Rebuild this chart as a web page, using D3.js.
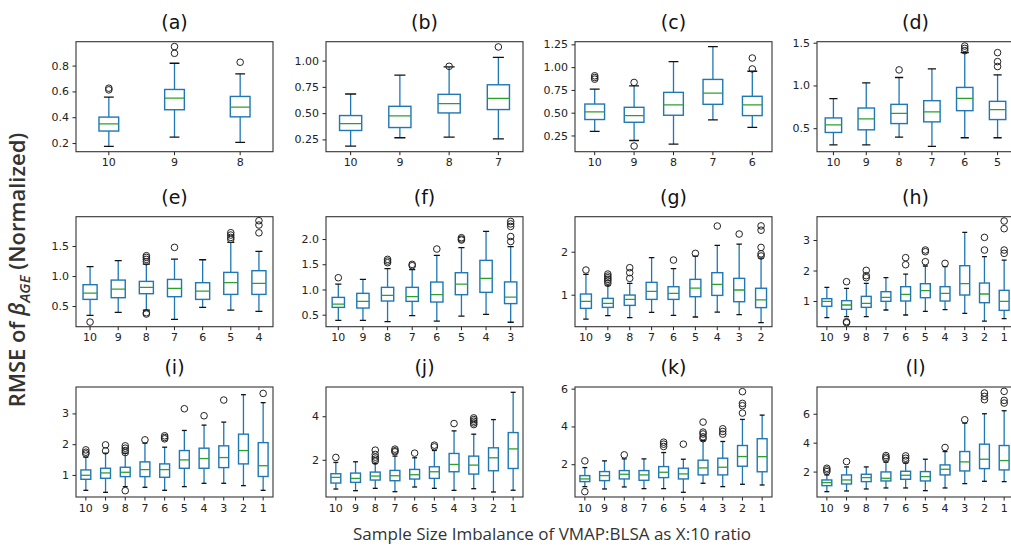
<!DOCTYPE html>
<html>
<head>
<meta charset="utf-8">
<script src="https://cdn.jsdelivr.net/npm/d3@7"></script>
<style>
  body { margin: 0; background: #fff; }
  svg { display: block; }
  .tick text { font-family: "DejaVu Sans", sans-serif; font-size: 11px; fill: #222; }
  .tick line { stroke: #222; }
</style>
</head>
<body>
<div id="chart"></div>
<script>
// categories (X:10 ratio), each panel uses the first n
const ratios = ["10", "9", "8", "7", "6", "5", "4", "3", "2", "1"];
const panelNames = ["(a)", "(b)", "(c)", "(d)", "(e)", "(f)", "(g)", "(h)", "(i)", "(j)", "(k)", "(l)"];

// box stats per category: [lowWhisker, q1, median, q3, highWhisker]
const boxA = [[0.174,0.293,0.349,0.401,0.555],[0.246,0.458,0.548,0.615,0.818],[0.205,0.403,0.478,0.561,0.736]];
const outA = [[0.612,0.625],[0.895,0.947],[0.826]];

const boxB = [[0.187,0.335,0.401,0.477,0.682],[0.266,0.363,0.474,0.565,0.861],[0.272,0.502,0.590,0.679,0.940],[0.256,0.534,0.641,0.770,1.030]];
const outB = [[],[],[0.946],[1.13]];

const boxC = [[0.294,0.425,0.508,0.595,0.759],[0.195,0.395,0.468,0.559,0.795],[0.155,0.472,0.585,0.723,1.061],[0.421,0.592,0.715,0.865,1.225],[0.34,0.468,0.585,0.68,0.955]];
const outC = [[0.868,0.886,0.905],[0.134,0.832],[],[],[0.98,1.10]];

const boxD = [[0.306,0.45,0.539,0.62,0.845],[0.306,0.481,0.609,0.736,1.031],[0.395,0.554,0.674,0.779,1.093],[0.287,0.574,0.69,0.822,1.194],[0.388,0.705,0.849,0.977,1.384],[0.388,0.601,0.717,0.814,1.124]];
const outD = [[],[],[1.182],[],[1.407,1.434,1.461],[1.221,1.279,1.384]];

const boxE = [[0.344,0.611,0.717,0.856,1.156],[0.394,0.639,0.783,0.933,1.256],[0.433,0.706,0.811,0.911,1.2],[0.278,0.656,0.794,0.944,1.283],[0.478,0.611,0.75,0.889,1.272],[0.433,0.694,0.889,1.061,1.561],[0.411,0.694,0.878,1.089,1.411]];
const outE = [[0.233],[],[0.367,0.389,1.239,1.278,1.311,1.339],[1.478],[],[1.611,1.644,1.683,1.722],[1.72,1.85,1.922]];

const boxF = [[0.387,0.645,0.711,0.843,1.108],[0.387,0.632,0.764,0.923,1.2],[0.361,0.771,0.883,1.042,1.412],[0.48,0.764,0.857,1.042,1.392],[0.374,0.751,0.896,1.147,1.676],[0.473,0.896,1.108,1.332,1.828],[0.506,0.943,1.22,1.577,2.152],[0.35,0.72,0.85,1.15,1.85]];
const outF = [[1.233],[],[1.531,1.564,1.597],[1.471,1.498],[1.802],[1.98,2.0,2.026],[],[1.95,2.05,2.25,2.3,2.35]];

const boxG = [[0.434,0.682,0.845,1.016,1.473],[0.512,0.705,0.798,0.915,1.225],[0.465,0.752,0.891,0.992,1.264],[0.589,0.891,1.078,1.287,1.86],[0.519,0.891,1.031,1.186,1.605],[0.481,0.953,1.155,1.357,1.899],[0.597,0.984,1.24,1.512,2.147],[0.535,0.837,1.109,1.38,2.178],[0.35,0.7,0.88,1.15,1.85]];
const outG = [[1.574],[1.264,1.318,1.357,1.395,1.434,1.48],[1.38,1.512,1.628],[],[1.806],[1.961],[2.597],[2.411],[1.9,1.95,2.1,2.5,2.6]];

const boxH = [[0.454,0.825,0.989,1.077,1.448],[0.486,0.727,0.869,1.011,1.415],[0.486,0.792,0.923,1.153,1.579],[0.705,0.989,1.12,1.306,1.765],[0.541,1.0,1.219,1.47,1.885],[0.661,1.109,1.339,1.568,2.148],[0.716,1.0,1.251,1.47,2.126],[0.596,1.197,1.568,2.158,3.251],[0.344,0.945,1.23,1.59,2.454],[0.421,0.694,0.989,1.35,2.344]];
const outH = [[],[0.29,0.322,1.634],[1.765,1.831,2.005],[],[2.191,2.421],[2.29,2.617,2.672],[2.235],[],[2.672,3.087],[2.563,2.672,3.372,3.623]];

const boxI = [[0.5,0.859,0.989,1.163,1.576],[0.435,0.891,1.065,1.217,1.707],[0.62,0.946,1.087,1.25,1.707],[0.598,0.946,1.174,1.424,2.033],[0.5,0.924,1.174,1.359,1.902],[0.62,1.217,1.489,1.793,2.446],[0.728,1.217,1.533,1.87,2.62],[0.728,1.239,1.565,1.946,2.717],[0.652,1.359,1.793,2.326,3.609],[0.5,0.95,1.3,2.05,3.35]];
const outI = [[1.685,1.739,1.815],[1.783,1.978],[0.489,1.728,1.793,1.87,1.946],[2.141],[2.174,2.217,2.272],[3.152],[2.924],[3.435],[],[3.65]];

const boxJ = [[0.656,0.931,1.191,1.359,1.878],[0.58,0.962,1.145,1.389,1.908],[0.687,1.069,1.252,1.435,1.832],[0.534,1.038,1.267,1.511,2.168],[0.748,1.115,1.313,1.557,2.092],[0.687,1.145,1.45,1.679,2.427],[0.595,1.45,1.786,2.29,3.328],[0.672,1.344,1.756,2.168,3.176],[0.519,1.496,2.092,2.55,3.847],[0.6,1.6,2.5,3.25,5.1]];
const outJ = [[2.107],[],[1.939,2.031,2.122,2.244,2.443],[2.366,2.412,2.489],[2.305],[2.595,2.672],[3.664],[3.618,3.695,3.771,3.847,3.924],[],[]];

const boxK = [[0.814,1.08,1.221,1.398,1.823],[0.69,1.133,1.398,1.611,2.177],[0.796,1.221,1.469,1.664,2.283],[0.708,1.15,1.434,1.664,2.283],[0.708,1.292,1.575,1.876,2.619],[0.513,1.221,1.487,1.788,2.265],[0.991,1.434,1.805,2.212,3.25],[0.814,1.434,1.841,2.319,3.204],[0.938,1.894,2.407,2.991,4.372],[0.9,1.6,2.4,3.35,4.6]];
const outK = [[0.549,2.177],[],[2.496],[],[2.938,3.062,3.168],[3.062],[3.35,3.45,3.6,3.7,4.23],[3.593,3.735,3.876],[4.708,5.097,5.221,5.841],[]];

const boxL = [[0.613,1.029,1.237,1.422,1.769],[0.659,1.145,1.422,1.769,2.324],[0.798,1.306,1.584,1.815,2.324],[0.867,1.353,1.538,1.977,2.647],[0.867,1.468,1.746,2.023,2.601],[0.682,1.353,1.653,2.0,2.855],[0.867,1.769,2.162,2.462,3.387],[1.168,2.046,2.671,3.387,5.353],[1.329,2.208,2.855,3.896,6.0],[1.306,2.116,2.763,3.803,6.208]];
const outL = [[2.0,2.116,2.231],[2.694],[],[2.879,2.994,3.11],[2.763,2.925,3.087],[],[3.665],[5.584],[6.971,7.202,7.434],[6.74,6.925,7.549]];

// y axis ticks and limits per panel
const yTicks = [[0.2,0.4,0.6,0.8],[0.25,0.5,0.75,1.0],[0.25,0.5,0.75,1.0,1.25],[0.5,1.0,1.5],
                [0.5,1.0,1.5],[0.5,1.0,1.5,2.0],[1,2],[1,2,3],
                [1,2,3],[2,4],[2,4,6],[2,4,6]];
const yFormats = [".1f",".2f",".2f",".1f",".1f",".1f","d","d","d","d","d","d"];
const yLimits = [[0.133,0.985],[0.133,1.18],[0.072,1.279],[0.225,1.512],
                 [0.156,1.989],[0.262,2.443],[0.256,2.814],[0.158,3.765],
                 [0.283,3.859],[0.29,5.344],[0.265,6.088],[0.243,7.85]];

const boxes = [boxA, boxB, boxC, boxD, boxE, boxF, boxG, boxH, boxI, boxJ, boxK, boxL];
const fliers = [outA, outB, outC, outD, outE, outF, outG, outH, outI, outJ, outK, outL];

const W = 1011, H = 550;
const colLeft = [76, 326, 575, 817];
const rowTop = [41.7, 216.7, 387];
const pw = 197, ph = 110;

const svg = d3.select("#chart").append("svg")
    .attr("width", W)
    .attr("height", H);

boxes.forEach((data, i) => {
    const col = i % 4, row = Math.floor(i / 4);
    const cats = ratios.slice(0, data.length);
    const g = svg.append("g")
        .attr("transform", `translate(${colLeft[col]},${rowTop[row]})`);

    const x = d3.scaleBand().domain(cats).range([0, pw]);
    const y = d3.scaleLinear().domain(yLimits[i]).range([ph, 0]);
    const n = cats.length;
    const bw = Math.max(0.15, Math.min(0.5, 0.15 * (n - 1))) * x.bandwidth();
    const cx = c => x(c) + x.bandwidth() / 2;

    const clipId = "clip" + i;
    g.append("clipPath").attr("id", clipId)
        .append("rect").attr("width", pw).attr("height", ph);

    const plot = g.append("g").attr("clip-path", `url(#${clipId})`);

    const item = plot.selectAll("g.box")
        .data(data.map((d, j) => ({ cat: cats[j], s: d, out: fliers[i][j] })))
        .enter().append("g")
        .attr("class", "box");

    // whiskers
    item.append("line")
        .attr("x1", d => cx(d.cat)).attr("x2", d => cx(d.cat))
        .attr("y1", d => y(d.s[0])).attr("y2", d => y(d.s[1]))
        .attr("stroke", "#1f77b4").attr("stroke-width", 1.3);
    item.append("line")
        .attr("x1", d => cx(d.cat)).attr("x2", d => cx(d.cat))
        .attr("y1", d => y(d.s[3])).attr("y2", d => y(d.s[4]))
        .attr("stroke", "#1f77b4").attr("stroke-width", 1.3);

    // caps
    [0, 4].forEach(k => {
        item.append("line")
            .attr("x1", d => cx(d.cat) - bw / 4).attr("x2", d => cx(d.cat) + bw / 4)
            .attr("y1", d => y(d.s[k])).attr("y2", d => y(d.s[k]))
            .attr("stroke", "#111").attr("stroke-width", 1.3);
    });

    // box
    item.append("rect")
        .attr("x", d => cx(d.cat) - bw / 2)
        .attr("width", bw)
        .attr("y", d => y(d.s[3]))
        .attr("height", d => y(d.s[1]) - y(d.s[3]))
        .attr("fill", "none")
        .attr("stroke", "#1f77b4").attr("stroke-width", 1.4);

    // median
    item.append("line")
        .attr("x1", d => cx(d.cat) - bw / 2).attr("x2", d => cx(d.cat) + bw / 2)
        .attr("y1", d => y(d.s[2])).attr("y2", d => y(d.s[2]))
        .attr("stroke", "#2ca02c").attr("stroke-width", 1.3);

    // fliers
    item.selectAll("circle")
        .data(d => d.out.map(v => ({ cat: d.cat, v })))
        .enter().append("circle")
        .attr("cx", d => cx(d.cat))
        .attr("cy", d => y(d.v))
        .attr("r", 3.3)
        .attr("fill", "none")
        .attr("stroke", "#222").attr("stroke-width", 1);

    // axes
    const yAxis = g.append("g")
        .call(d3.axisLeft(y).tickValues(yTicks[i]).tickFormat(d3.format(yFormats[i]))
            .tickSize(3.5).tickPadding(3.5));
    yAxis.select(".domain").remove();

    const xAxis = g.append("g")
        .attr("transform", `translate(0,${ph})`)
        .call(d3.axisBottom(x).tickSize(3.5).tickPadding(3.5));
    xAxis.select(".domain").remove();

    // frame
    g.append("rect")
        .attr("width", pw).attr("height", ph)
        .attr("fill", "none")
        .attr("stroke", "#333").attr("stroke-width", 1.1);

    // title
    g.append("text")
        .attr("x", pw / 2).attr("y", -13)
        .attr("text-anchor", "middle")
        .attr("font-family", "DejaVu Sans, sans-serif")
        .attr("font-size", 19)
        .attr("fill", "#111")
        .text(panelNames[i]);
});

// shared axis labels
svg.append("text")
    .attr("x", 552).attr("y", 540)
    .attr("text-anchor", "middle")
    .attr("font-family", "Open Sans, sans-serif")
    .attr("font-size", 17)
    .attr("fill", "#333")
    .text("Sample Size Imbalance of VMAP:BLSA as X:10 ratio");

const yl = svg.append("text")
    .attr("transform", "translate(25,270) rotate(-90)")
    .attr("text-anchor", "middle")
    .attr("font-family", "Open Sans, sans-serif")
    .attr("font-size", 22)
    .attr("font-weight", 600)
    .attr("fill", "#333");
yl.append("tspan").text("RMSE of ");
yl.append("tspan").attr("font-style", "italic").text("β");
yl.append("tspan").attr("font-style", "italic").attr("font-size", 15).attr("dy", 5).text("AGE");
yl.append("tspan").attr("dy", -5).text(" (Normalized)");
</script>
</body>
</html>
